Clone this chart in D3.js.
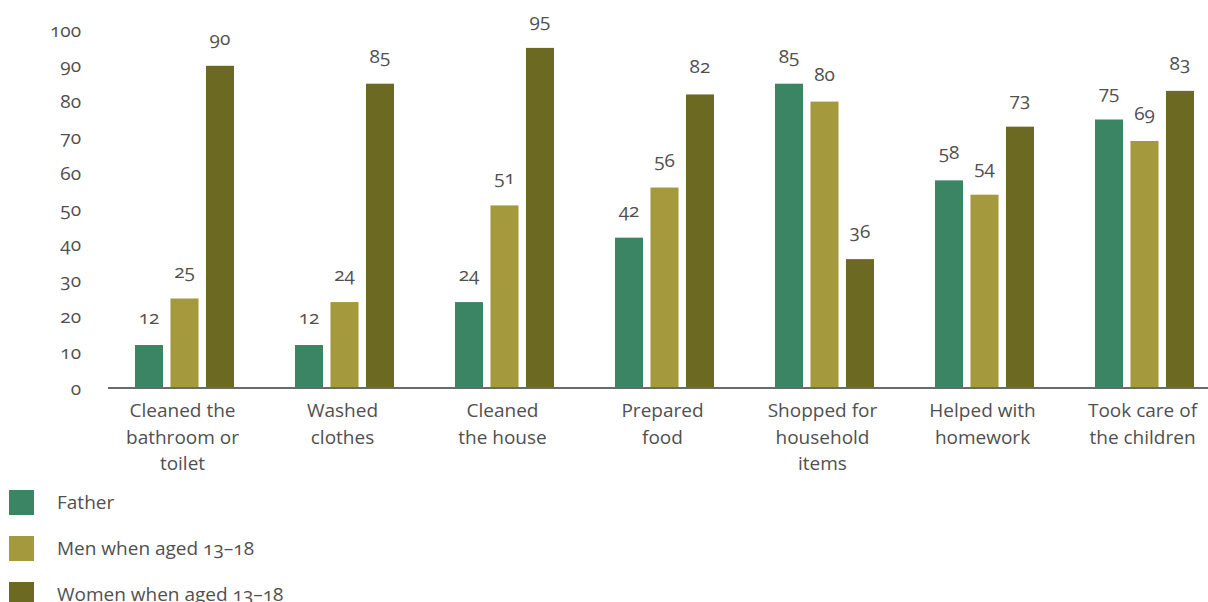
<!DOCTYPE html>
<html>
<head>
<meta charset="utf-8">
<script src="https://cdn.jsdelivr.net/npm/d3@7"></script>
<style>
  html, body { margin: 0; padding: 0; background: #fff; }
  svg { display: block; font-family: "Open Sans", Lato, sans-serif; font-variant-numeric: oldstyle-nums; }
</style>
</head>
<body>
<svg id="chart" width="1208" height="602"></svg>
<script>
const categories = [
  "Cleaned the\nbathroom or\ntoilet",
  "Washed\nclothes",
  "Cleaned\nthe house",
  "Prepared\nfood",
  "Shopped for\nhousehold\nitems",
  "Helped with\nhomework",
  "Took care of\nthe children"
];
const seriesNames = ["Father", "Men when aged 13–18", "Women when aged 13–18"];
const fatherValues = [12, 12, 24, 42, 85, 58, 75];
const menValues = [25, 24, 51, 56, 80, 54, 69];
const womenValues = [90, 85, 95, 82, 36, 73, 83];
const yTicks = [0, 10, 20, 30, 40, 50, 60, 70, 80, 90, 100];
const colors = ["#3b8565", "#a4993c", "#6c6923"];

const seriesValues = [fatherValues, menValues, womenValues];
const data = categories.map((c, i) => ({
  cat: c,
  values: seriesNames.map((s, j) => ({ series: s, value: seriesValues[j][i], idx: j }))
}));

const svg = d3.select("#chart");
const baseY = 388, topY = 30;
const textColor = "#505050";

const x0 = d3.scaleBand().domain(categories).range([104.5, 1224.5]).padding(0);
const x1 = d3.scaleBand().domain(seriesNames).range([30.5, 129.5]).paddingInner(0.21).paddingOuter(0);
const y = d3.scaleLinear().domain([0, 100]).range([baseY, topY]);
const color = d3.scaleOrdinal().domain(seriesNames).range(colors);

// Y axis labels
const yAxis = d3.axisLeft(y).tickValues(yTicks).tickSize(0).tickPadding(0);
const gy = svg.append("g").attr("transform", "translate(81,0)").call(yAxis);
gy.select(".domain").remove();
gy.selectAll("text").attr("font-size", 19).attr("fill", textColor).attr("font-family", "'Open Sans', Lato, sans-serif");

// Bars
const groups = svg.append("g").selectAll("g").data(data).join("g")
  .attr("transform", d => `translate(${x0(d.cat)},0)`);
groups.selectAll("rect").data(d => d.values).join("rect")
  .attr("x", d => x1(d.series))
  .attr("width", x1.bandwidth())
  .attr("y", d => y(d.value))
  .attr("height", d => y(0) - y(d.value))
  .attr("fill", d => color(d.series));
groups.selectAll("text.val").data(d => d.values).join("text")
  .attr("class", "val")
  .attr("x", d => x1(d.series) + x1.bandwidth() / 2)
  .attr("y", d => y(d.value) - 21)
  .attr("text-anchor", "middle")
  .attr("font-size", 19)
  .attr("fill", textColor)
  .text(d => d.value);

// X axis
const xAxis = d3.axisBottom(x0).tickSize(0).tickFormat("");
const gx = svg.append("g").attr("transform", `translate(0,${baseY})`).call(xAxis);
gx.select(".domain").attr("d", "M108,0H1208").attr("stroke", "#6b6b6b").attr("stroke-width", 2);

// Category labels
const catLabels = svg.append("g").selectAll("text").data(categories).join("text")
  .attr("x", d => x0(d) + x0.bandwidth() / 2 - 2)
  .attr("y", 417)
  .attr("text-anchor", "middle")
  .attr("font-size", 19)
  .attr("fill", textColor);
catLabels.each(function(d) {
  const t = d3.select(this);
  d.split("\n").forEach((line, i) => {
    t.append("tspan").attr("x", x0(d) + x0.bandwidth() / 2 - 2).attr("dy", i === 0 ? 0 : 26.5).text(line);
  });
});

// Legend
const legend = svg.append("g").selectAll("g").data(seriesNames).join("g")
  .attr("transform", (d, i) => `translate(9,${490 + i * 46})`);
legend.append("rect").attr("width", 25).attr("height", 25).attr("fill", d => color(d));
legend.append("text").attr("x", 48).attr("y", 12.5).attr("dy", "0.35em")
  .attr("font-size", 19).attr("fill", textColor).text(d => d);
</script>
</body>
</html>
